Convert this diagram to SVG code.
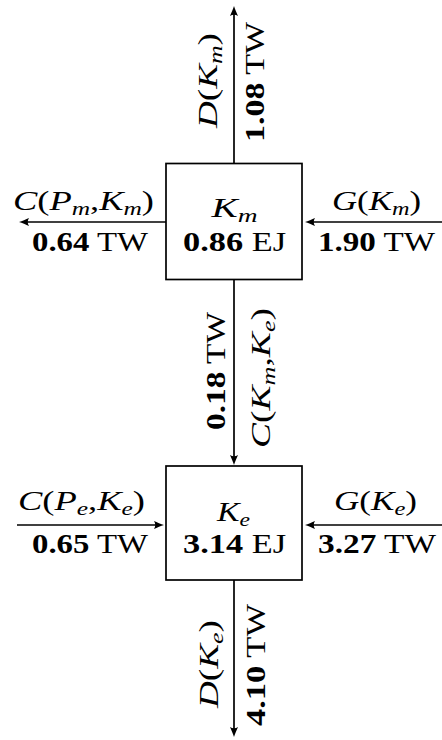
<svg xmlns="http://www.w3.org/2000/svg" width="442" height="740" viewBox="0 0 442 740">
  <style>
    text { font-family: "Liberation Serif", "DejaVu Serif", serif; font-size: 28px; fill: #000; }
    .i { font-style: italic; }
    .s { font-style: italic; font-size: 19.5px; }
    .b { font-weight: bold; }
    .box { fill: #fff; stroke: #000; stroke-width: 1.7; }
    .flow { fill: none; stroke: #000; stroke-width: 1.7; marker-end: url(#tip); }
  </style>
  <defs>
    <marker id="tip" markerUnits="userSpaceOnUse" orient="auto" refX="-3" refY="0" markerWidth="20" markerHeight="20" overflow="visible">
      <path d="M0,0 C-3,-1 -7,-2.6 -10,-4 C-8.3,-1.5 -8.3,1.5 -10,4 C-7,2.6 -3,1 0,0 Z" fill="#000"/>
    </marker>
  </defs>

  <!-- connectors -->
  <g id="connectors">
    <path class="flow" d="M234,163 L234,9"/>
    <path class="flow" d="M166,222 L22,222"/>
    <path class="flow" d="M442,222 L308,222"/>
    <path class="flow" d="M234,279 L234,462"/>
    <path class="flow" d="M17,525 L161,525"/>
    <path class="flow" d="M442,525 L308,525"/>
    <path class="flow" d="M234,580 L234,734"/>
  </g>

  <!-- upper store -->
  <g id="Km">
    <rect class="box" x="166" y="163.5" width="136" height="116"/>
    <text x="211.5" y="217" textLength="46" lengthAdjust="spacingAndGlyphs"><tspan class="i">K</tspan><tspan class="s" dy="4.5">m</tspan></text>
    <text x="183" y="251" textLength="103" lengthAdjust="spacingAndGlyphs"><tspan class="b">0.86</tspan> EJ</text>
  </g>

  <!-- lower store -->
  <g id="Ke">
    <rect class="box" x="166" y="466" width="136" height="114"/>
    <text x="217" y="521" textLength="33" lengthAdjust="spacingAndGlyphs"><tspan class="i">K</tspan><tspan class="s" dy="4.5">e</tspan></text>
    <text x="183" y="553" textLength="103" lengthAdjust="spacingAndGlyphs"><tspan class="b">3.14</tspan> EJ</text>
  </g>

  <!-- flow labels, upper store -->
  <g id="D-Km">
    <text transform="translate(217,128) rotate(-90)" textLength="95" lengthAdjust="spacingAndGlyphs"><tspan class="i">D</tspan>(<tspan class="i">K</tspan><tspan class="s" dy="4.5">m</tspan><tspan dy="-4.5">)</tspan></text>
    <text transform="translate(264,142) rotate(-90)" textLength="120" lengthAdjust="spacingAndGlyphs"><tspan class="b">1.08</tspan> TW</text>
  </g>
  <g id="C-Pm-Km">
    <text x="13" y="210" textLength="141" lengthAdjust="spacingAndGlyphs"><tspan class="i">C</tspan>(<tspan class="i">P</tspan><tspan class="s" dy="4.5">m</tspan><tspan dy="-4.5">,</tspan><tspan class="i">K</tspan><tspan class="s" dy="4.5">m</tspan><tspan dy="-4.5">)</tspan></text>
    <text x="32" y="251" textLength="116" lengthAdjust="spacingAndGlyphs"><tspan class="b">0.64</tspan> TW</text>
  </g>
  <g id="G-Km">
    <text x="332" y="210" textLength="89" lengthAdjust="spacingAndGlyphs"><tspan class="i">G</tspan>(<tspan class="i">K</tspan><tspan class="s" dy="4.5">m</tspan><tspan dy="-4.5">)</tspan></text>
    <text x="318" y="251" textLength="117" lengthAdjust="spacingAndGlyphs"><tspan class="b">1.90</tspan> TW</text>
  </g>

  <!-- transfer between stores -->
  <g id="C-Km-Ke">
    <text transform="translate(225,430) rotate(-90)" textLength="118" lengthAdjust="spacingAndGlyphs"><tspan class="b">0.18</tspan> TW</text>
    <text transform="translate(270,448) rotate(-90)" textLength="140" lengthAdjust="spacingAndGlyphs"><tspan class="i">C</tspan>(<tspan class="i">K</tspan><tspan class="s" dy="4.5">m</tspan><tspan dy="-4.5">,</tspan><tspan class="i">K</tspan><tspan class="s" dy="4.5">e</tspan><tspan dy="-4.5">)</tspan></text>
  </g>

  <!-- flow labels, lower store -->
  <g id="C-Pe-Ke">
    <text x="18" y="510" textLength="127" lengthAdjust="spacingAndGlyphs"><tspan class="i">C</tspan>(<tspan class="i">P</tspan><tspan class="s" dy="4.5">e</tspan><tspan dy="-4.5">,</tspan><tspan class="i">K</tspan><tspan class="s" dy="4.5">e</tspan><tspan dy="-4.5">)</tspan></text>
    <text x="32" y="553" textLength="116" lengthAdjust="spacingAndGlyphs"><tspan class="b">0.65</tspan> TW</text>
  </g>
  <g id="G-Ke">
    <text x="334" y="510" textLength="83" lengthAdjust="spacingAndGlyphs"><tspan class="i">G</tspan>(<tspan class="i">K</tspan><tspan class="s" dy="4.5">e</tspan><tspan dy="-4.5">)</tspan></text>
    <text x="318" y="553" textLength="118" lengthAdjust="spacingAndGlyphs"><tspan class="b">3.27</tspan> TW</text>
  </g>
  <g id="D-Ke">
    <text transform="translate(218,708) rotate(-90)" textLength="88" lengthAdjust="spacingAndGlyphs"><tspan class="i">D</tspan>(<tspan class="i">K</tspan><tspan class="s" dy="4.5">e</tspan><tspan dy="-4.5">)</tspan></text>
    <text transform="translate(265,726) rotate(-90)" textLength="122" lengthAdjust="spacingAndGlyphs"><tspan class="b">4.10</tspan> TW</text>
  </g>
</svg>
